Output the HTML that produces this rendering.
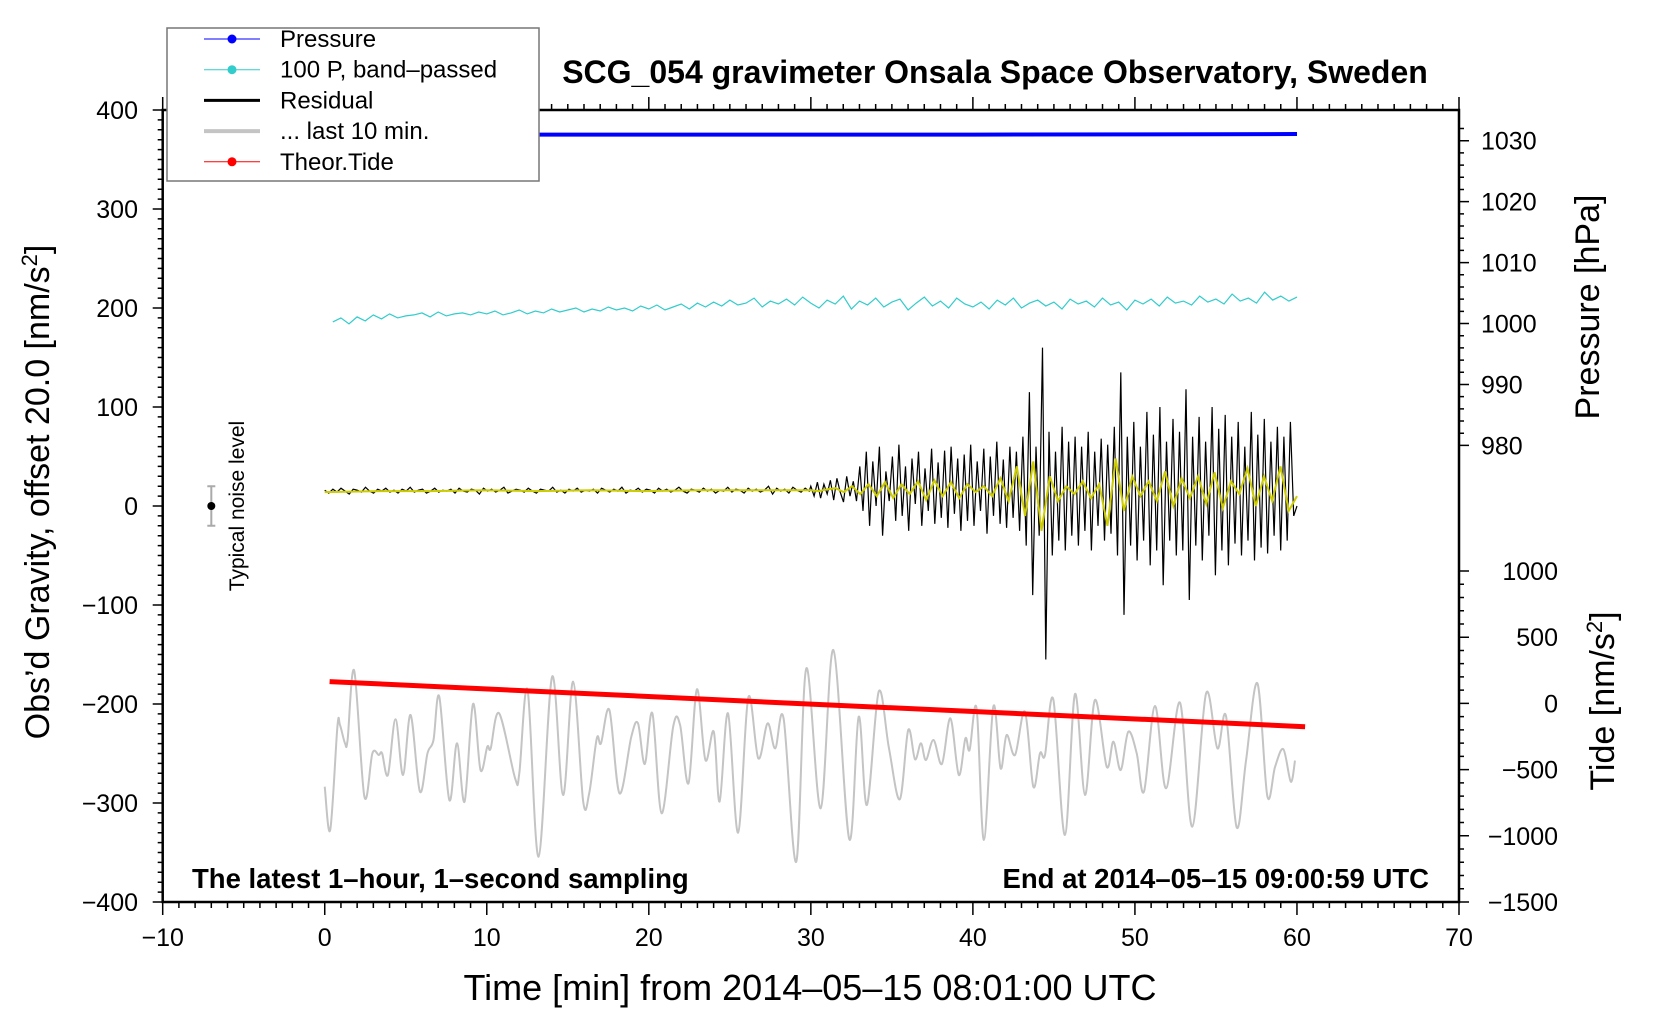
<!DOCTYPE html>
<html><head><meta charset="utf-8"><style>
html,body{margin:0;padding:0;background:#fff;}
svg{display:block;font-family:"Liberation Sans",Arial,sans-serif;}
</style></head><body>
<svg id="chart" width="1660" height="1020" viewBox="0 0 1660 1020" xmlns="http://www.w3.org/2000/svg">
<rect x="0" y="0" width="1660" height="1020" fill="#fff"/>
<g id="plot"></g>
<g id="axes"></g>
<text x="995" y="83" font-size="32" font-weight="bold" text-anchor="middle">SCG_054 gravimeter Onsala Space Observatory, Sweden</text>
<text x="192" y="888" font-size="27.5" font-weight="bold">The latest 1–hour, 1–second sampling</text>
<text x="1429" y="888" font-size="27.5" font-weight="bold" text-anchor="end">End at 2014–05–15 09:00:59 UTC</text>
<text x="810" y="1000" font-size="36" text-anchor="middle">Time [min] from 2014–05–15 08:01:00 UTC</text>
<text transform="translate(49,492) rotate(-90)" font-size="34" text-anchor="middle">Obs’d Gravity, offset 20.0 [nm/s<tspan dy="-12" font-size="22">2</tspan><tspan dy="12">]</tspan></text>
<text transform="translate(1599,307) rotate(-90)" font-size="34" text-anchor="middle">Pressure [hPa]</text>
<text transform="translate(1614,701) rotate(-90)" font-size="34" text-anchor="middle">Tide [nm/s<tspan dy="-12" font-size="22">2</tspan><tspan dy="12">]</tspan></text>
<text transform="translate(244,506) rotate(-90)" font-size="21" text-anchor="middle">Typical noise level</text>
<g id="legend"></g>
</svg>
<script>
// ---- data ----
const xTicks = [-10,0,10,20,30,40,50,60,70];
const leftTicks = [400,300,200,100,0,-100,-200,-300,-400];
const pressureTicks = [1030,1020,1010,1000,990,980];
const tideTicks = [1000,500,0,-500,-1000,-1500];
const pressureTimes = [0,20,40,55,60];
const pressureValues = [1031.0,1031.0,1031.0,1031.05,1031.1];
const bandPassed = [186,190,184,191,187,193,189,194,190,192,193,195,191,196,192,194,195,193,196,194,
197,193,195,198,194,197,195,199,196,198,200,196,199,197,201,198,200,197,202,199,
203,198,201,204,199,205,201,206,202,208,203,205,210,201,207,204,209,203,211,205,
200,208,204,212,199,207,203,210,201,206,209,198,205,211,202,207,200,210,204,201,
206,199,208,203,210,200,205,208,202,206,199,209,204,207,201,210,203,206,198,208,
204,209,202,211,205,207,203,212,206,209,204,214,207,210,205,216,208,212,207,211];
const residualQuiet = [16,13,17,14,18,15,12,17,16,14,19,15,13,17,15,18,14,16,13,17,15,19,14,16,17,13,15,18,14,16,15,17,13,18,15,14,17,16,12,18,15,17,14,16,19,13,15,17,16,14,18,15,13,17,16,15,19,14,16,13,17,15,18,14,16,15,17,13,18,16,14,17,15,19,13,16,15,18,14,17,16,13,18,15,17,14,16,19,15,13,17,16,14,18,15,17,13,16,15,19,14,17,16,13,18,15,17,14,16,20,12,18,15,17,13,19,16,14,18,15];
const residualActive = [20,10,24,8,22,12,26,6,28,14,4,30,10,25,5,
40,-5,55,-20,45,0,60,-30,35,5,50,-15,62,-10,40,-25,48,2,55,-20,38,-5,58,-18,44,
-12,56,-22,60,-8,48,-25,52,-15,62,-20,45,-5,58,-28,50,-10,65,-18,47,-22,60,-12,55,-25,
70,-40,115,-90,60,-30,160,-155,75,-50,55,-35,80,-45,65,
-30,70,-40,60,-25,75,-45,55,-20,68,-35,62,-28,80,-50,
135,-110,70,-40,85,-55,60,-35,95,-60,72,-45,100,-80,65,-35,88,-50,75,-45,118,-95,70,-40,90,-55,65,-30,100,-70,78,-45,92,-60,70,-38,85,-50,60,-35,95,-55,72,-42,88,-48,65,-30,80,-45,70,-35,85,-10,0];
const smoothQuiet = [14,15,15,16,15,16,15,16,16,16];
const smoothActive = [16,15,17,18,14,20,12,22,10,24,8,22,12,25,6,26,10,24,8,22,14,20,10,28,5,40,-10,45,-25,30,5,20,12,25,8,22,-20,48,-5,30,10,25,5,35,0,28,8,30,2,34,-2,25,12,38,0,30,5,40,-5,10];
const lastTimes = [0.0,0.34,0.78,0.94,1.25,1.41,1.82,2.45,2.94,3.33,3.54,3.90,4.37,4.83,5.30,5.87,6.34,6.71,7.07,7.69,8.16,8.63,9.15,9.61,10.03,10.24,10.76,11.75,12.01,12.52,13.20,14.03,14.71,15.33,15.95,16.32,16.79,17.05,17.57,18.19,18.92,19.33,19.75,20.22,20.79,21.51,21.93,22.45,22.97,23.49,24.01,24.37,24.89,25.51,26.14,26.76,27.33,27.80,28.32,29.10,29.72,30.61,31.39,32.37,32.95,33.46,34.19,34.82,35.49,36.01,36.43,36.79,37.10,37.57,38.09,38.61,39.13,39.54,39.80,40.23,40.68,41.26,41.71,42.08,42.60,43.21,43.73,44.14,44.45,44.96,45.68,46.30,46.92,47.53,48.26,48.67,49.12,49.59,50.11,50.56,51.24,51.92,52.78,53.54,54.39,55.09,55.62,56.28,56.86,57.56,58.17,58.65,59.16,59.62,59.88];
const lastValues = [-283.5,-327.3,-222.9,-221.2,-239.7,-236.4,-166.3,-293.6,-249.8,-251.5,-249.8,-271.7,-215.5,-271.7,-211.1,-288.5,-249.8,-236.4,-192.6,-297.0,-239.7,-298.6,-200.0,-266.7,-243.1,-244.8,-209.4,-275.1,-270.0,-185.9,-354.2,-172.4,-291.9,-177.4,-298.6,-290.2,-234.7,-239.7,-206.1,-290.2,-233.0,-219.5,-260.6,-209.4,-310.4,-222.2,-221.2,-280.1,-185.2,-256.6,-228.0,-298.6,-209.4,-330.0,-193.3,-254.9,-219.5,-244.8,-214.5,-359.3,-164.0,-305.4,-145.5,-336.7,-212.8,-302.0,-187.5,-244.8,-296.3,-226.3,-255.9,-239.7,-256.6,-236.4,-260.6,-214.5,-271.7,-234.7,-246.5,-204.4,-337.4,-202.7,-265.0,-231.3,-251.5,-207.7,-283.5,-249.8,-251.5,-195.3,-332.3,-189.9,-291.9,-196.0,-263.3,-238.0,-266.7,-228.0,-249.8,-288.5,-202.0,-285.2,-198.6,-323.9,-189.2,-244.8,-212.1,-324.6,-256.6,-179.1,-292.9,-263.3,-245.8,-278.5,-257.2];
const tideTimes = [0.3,30,60.5];
const tideValues = [165,-5,-176];
const noiseLevel = 20;

// ---- scales ----
const X0=162.7, X1=1459, Y0=110, Y1=902;
const xs = t => X0 + (t+10)*(X1-X0)/80;
const ys = v => Y0 + (400-v)*(Y1-Y0)/800;
const yp = p => 140.7 + (1030-p)*6.094;
const yt = v => 571 + (1000-v)*(Y1-571)/2500;
const NS='http://www.w3.org/2000/svg';
function mk(tag, attrs, parent){const e=document.createElementNS(NS,tag);for(const k in attrs)e.setAttribute(k,attrs[k]);parent.appendChild(e);return e;}
const plot=document.getElementById('plot'), axes=document.getElementById('axes'), legend=document.getElementById('legend');
function poly(pts){return pts.map((p,i)=>(i?'L':'M')+p[0].toFixed(1)+' '+p[1].toFixed(1)).join(' ');}
function spread(arr,t0,t1){return arr.map((v,i)=>[t0+(t1-t0)*i/(arr.length-1),v]);}
function smooth(pts){let d='M'+pts[0][0].toFixed(1)+' '+pts[0][1].toFixed(1);for(let i=0;i<pts.length-1;i++){const p0=pts[Math.max(0,i-1)],p1=pts[i],p2=pts[i+1],p3=pts[Math.min(pts.length-1,i+2)];const c1=[p1[0]+(p2[0]-p0[0])/6,p1[1]+(p2[1]-p0[1])/6],c2=[p2[0]-(p3[0]-p1[0])/6,p2[1]-(p3[1]-p1[1])/6];d+=' C'+c1[0].toFixed(1)+' '+c1[1].toFixed(1)+' '+c2[0].toFixed(1)+' '+c2[1].toFixed(1)+' '+p2[0].toFixed(1)+' '+p2[1].toFixed(1);}return d;}

// last 10 min (gray)
const gp = lastTimes.map((t,i)=>[xs(t),ys(lastValues[i])]);
const g = mk('path',{d:smooth(gp),fill:'none',stroke:'#c4c4c4','stroke-width':2},plot);


// tide
const tl = mk('path',{d:poly(tideTimes.map((t,i)=>[xs(t),yt(tideValues[i])])),fill:'none',stroke:'#ff0000','stroke-width':5},plot);


// band passed
const cl = mk('path',{d:poly(spread(bandPassed,0.5,60).map(p=>[xs(p[0]),ys(p[1])])),fill:'none',stroke:'#33cccc','stroke-width':1.2},plot);


// residual
const resPts = spread(residualQuiet,0,29.9).concat(spread(residualActive,30,60));
const rl = mk('path',{d:poly(resPts.map(p=>[xs(p[0]),ys(p[1])])),fill:'none',stroke:'#000','stroke-width':1.2},plot);


const smPts = spread(smoothQuiet,0,29.5).concat(spread(smoothActive,30,60));
const yl = mk('path',{d:poly(smPts.map(p=>[xs(p[0]),ys(p[1])])),fill:'none',stroke:'#cccc00','stroke-width':2},plot);


// pressure
const pl = mk('path',{d:poly(pressureTimes.map((t,i)=>[xs(t),yp(pressureValues[i])])),fill:'none',stroke:'#0000ff','stroke-width':4},plot);


// noise bar
const nb = mk('path',{d:`M${xs(-7)-4} ${ys(noiseLevel)} H${xs(-7)+4} M${xs(-7)} ${ys(noiseLevel)} V${ys(-noiseLevel)} M${xs(-7)-4} ${ys(-noiseLevel)} H${xs(-7)+4}`,stroke:'#aaa','stroke-width':2,fill:'none'},plot);


const nd = mk('circle',{cx:xs(-7),cy:ys(0),r:4,fill:'#000'},plot);



// ---- axes ----
const frame = mk('rect',{x:X0,y:Y0,width:X1-X0,height:Y1-Y0,fill:'none',stroke:'#000','stroke-width':2.5},axes);


let tk='';
for(let t=-10;t<=70;t++){const x=xs(t),L=(t%10===0)?13:6;tk+=`M${x} ${Y1} V${Y1+L} M${x} ${Y0} V${Y0-L} `;}
for(let v=-400;v<=400;v+=10){const y=ys(v),L=(v%100===0)?10:5;tk+=`M${X0} ${y} H${X0-L} `;}
for(let p=980;p<=1032;p+=2){const y=yp(p),L=(p%10===0)?10:5;tk+=`M${X1} ${y} H${X1+L} `;}
for(let v=-1500;v<=1000;v+=100){const y=yt(v),L=(v%500===0)?10:5;tk+=`M${X1} ${y} H${X1+L} `;}
const tp = mk('path',{d:tk,stroke:'#000','stroke-width':1.5,fill:'none'},axes);


xTicks.forEach(t=>{const e=mk('text',{x:xs(t),y:946,'font-size':25,'text-anchor':'middle'},axes);e.textContent=String(t).replace('-','−');

});
leftTicks.forEach(v=>{const e=mk('text',{x:138,y:ys(v)+9,'font-size':25,'text-anchor':'end'},axes);e.textContent=String(v).replace('-','−');

});
pressureTicks.forEach(p=>{const e=mk('text',{x:1481,y:yp(p)+9,'font-size':25},axes);e.textContent=String(p);

});
tideTicks.forEach(v=>{const e=mk('text',{x:1558,y:yt(v)+9,'font-size':25,'text-anchor':'end'},axes);e.textContent=String(v).replace('-','−');

});

// ---- legend ----
const lb = mk('rect',{x:167,y:28,width:372,height:153,fill:'#fff',stroke:'#777','stroke-width':1.5},legend);


const legNames=['Pressure','100 P, band–passed','Residual','... last 10 min.','Theor.Tide'];
const legColors=['#0000ff','#33cccc','#000','#c4c4c4','#ff0000'];
const legWidths=[1,1,3,4,1];
const legDots=[true,true,false,false,true];
legNames.forEach((n,i)=>{const y=39+i*30.7;
const gr=mk('g',{},legend);


mk('line',{x1:204,x2:260,y1:y,y2:y,stroke:legColors[i],'stroke-width':legWidths[i]},gr);
if(legDots[i])mk('circle',{cx:232,cy:y,r:4.5,fill:legColors[i]},gr);
const t=mk('text',{x:280,y:y+8,'font-size':24},gr);t.textContent=n;});
</script>
</body></html>
